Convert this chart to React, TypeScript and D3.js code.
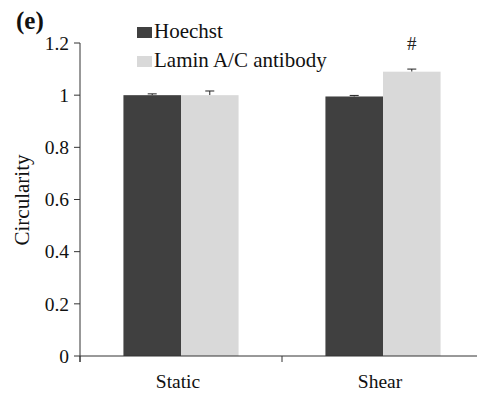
import React from "react";
import * as d3 from "d3";

const categories = ["Static", "Shear"];
const seriesNames = ["Hoechst", "Lamin A/C antibody"];
const hoechstValues = [1.0, 0.995];
const hoechstErrors = [0.005, 0.004];
const laminValues = [1.0, 1.09];
const laminErrors = [0.016, 0.01];
const yTicks = [0, 0.2, 0.4, 0.6, 0.8, 1, 1.2];
const significance = ["", "#"];

const colors = ["#404040", "#d9d9d9"];
const font = "'Liberation Serif', 'Times New Roman', serif";

export default function App() {
  const width = 477;
  const height = 396;
  const x0 = 80;
  const baseY = 356;

  const y = d3.scaleLinear().domain([0, 1.2]).range([baseY, 43]);
  const xBand = d3
    .scaleBand<string>()
    .domain(categories)
    .range([x0, 484])
    .paddingInner(0.43)
    .paddingOuter(0.215);
  const xSeries = d3
    .scaleBand<string>()
    .domain(seriesNames)
    .range([0, xBand.bandwidth()]);

  const series = [
    { name: seriesNames[0], values: hoechstValues, errors: hoechstErrors },
    { name: seriesNames[1], values: laminValues, errors: laminErrors },
  ];

  const step = xBand.step();
  const boundaries = [x0, x0 + step];

  return (
    <svg
      width={width}
      height={height}
      style={{ position: "absolute", left: 0, top: 0, background: "#fff" }}
      fontFamily={font}
    >
      {/* bars with upper error bars */}
      {categories.map((c, ci) =>
        series.map((s, si) => {
          const bx = (xBand(c) ?? 0) + (xSeries(s.name) ?? 0);
          const bw = xSeries.bandwidth();
          const top = y(s.values[ci]);
          const errTop = y(s.values[ci] + s.errors[ci]);
          const cx = bx + bw / 2;
          return (
            <g key={`${c}-${s.name}`}>
              <line x1={cx} x2={cx} y1={top} y2={errTop} stroke="#222" strokeWidth={1} />
              <line x1={cx - 4.5} x2={cx + 4.5} y1={errTop} y2={errTop} stroke="#222" strokeWidth={1} />
              <rect x={bx} y={top} width={bw} height={baseY - top} fill={colors[si]} />
            </g>
          );
        })
      )}

      {/* significance marks */}
      {categories.map((c, ci) =>
        significance[ci] ? (
          <text
            key={`sig-${c}`}
            x={(xBand(c) ?? 0) + (xSeries(seriesNames[1]) ?? 0) + xSeries.bandwidth() / 2}
            y={50}
            textAnchor="middle"
            fontSize={19}
            fill="#222"
          >
            {significance[ci]}
          </text>
        ) : null
      )}

      {/* y axis */}
      <line x1={x0} x2={x0} y1={y(1.2)} y2={baseY + 6} stroke="#333" strokeWidth={1} />
      {yTicks.map((t) => (
        <g key={t}>
          <line x1={x0 - 6} x2={x0} y1={y(t)} y2={y(t)} stroke="#333" strokeWidth={1} />
          <text x={x0 - 11} y={y(t)} dy="0.35em" textAnchor="end" fontSize={19.5} fill="#111">
            {String(t)}
          </text>
        </g>
      ))}

      {/* x axis */}
      <line x1={x0} x2={484} y1={baseY} y2={baseY} stroke="#333" strokeWidth={1} />
      {boundaries.map((b) => (
        <line key={b} x1={b} x2={b} y1={baseY} y2={baseY + 6} stroke="#333" strokeWidth={1} />
      ))}
      {categories.map((c) => (
        <text
          key={c}
          x={(xBand(c) ?? 0) + xBand.bandwidth() / 2 - 3}
          y={388}
          textAnchor="middle"
          fontSize={19.5}
          fill="#111"
        >
          {c}
        </text>
      ))}

      {/* y axis title */}
      <text
        transform="translate(29,200) rotate(-90)"
        textAnchor="middle"
        fontSize={21}
        fill="#111"
      >
        Circularity
      </text>

      {/* panel label */}
      <text x={16} y={29} fontSize={25} fontWeight="bold" fill="#111">
        (e)
      </text>

      {/* legend */}
      {seriesNames.map((n, i) => (
        <g key={n} transform={`translate(137, ${27 + i * 29})`}>
          <rect x={0} y={0} width={15} height={11} fill={colors[i]} />
          <text x={17} y={11} fontSize={21} fill="#111">
            {n}
          </text>
        </g>
      ))}
    </svg>
  );
}
